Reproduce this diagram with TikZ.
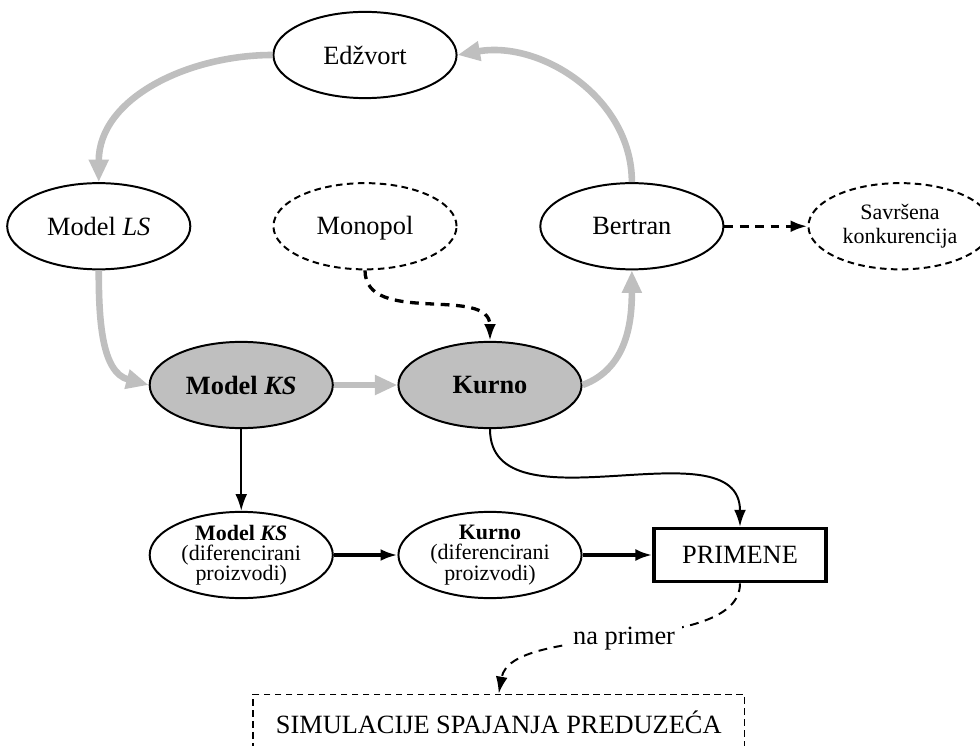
\documentclass[tikz,border=0pt]{standalone}
\usepackage{fontspec}
\setmainfont{Liberation Serif}
\usetikzlibrary{shapes,arrows.meta}

\begin{document}
\begin{tikzpicture}
    \tikzstyle{gedge} = [line width=3pt,draw=gray!50,-{Triangle[length=0.36cm,width=0.3cm]}]
    \tikzstyle{dedge} = [line width=0.9pt,draw=black,-{Latex[length=0.27cm,width=0.19cm]}]
    \tikzstyle{tedge} = [dedge,line width=1.5pt]
    \tikzstyle{sedge} = [dedge,line width=1.5pt,dash pattern=on 4pt off 3pt]
    \tikzstyle{model}=[
      ellipse,
      draw=black,
      line width=0.9pt,
      minimum width=2.93cm,
      minimum height=1.38cm,
      inner sep=0pt,
      align=center,
      font=\fontsize{12}{14}\selectfont,
    ]
    \tikzstyle{dmodel}=[
      model,
      dash pattern=on 3pt off 2pt,
    ]
    \tikzstyle{core}=[
      model,
      fill=gray!50,
      font=\fontsize{12}{14}\selectfont\bfseries,
    ]
    \tikzstyle{small}=[
      model,
      font=\fontsize{10}{9.2}\selectfont,
    ]

    \useasboundingbox (0,0) rectangle (15.68,-11.936);

    {
      \node[model] (ed) at (5.84,-0.88) {Edžvort};

      \node[model] (ls) at (1.58,-3.62) {Model \textit{LS}};
      \node[dmodel,text height=1.6ex,text depth=0pt] (mono) at (5.84,-3.62) {Monopol};
      \node[model] (be) at (10.11,-3.62) {Bertran};
      \node[dmodel,font=\fontsize{10}{11}\selectfont] (sk) at (14.4,-3.62) {Savršena\\konkurencija};

      \node[core] (ks) at (3.86,-6.16) {Model \textit{KS}};
      \node[core] (ku) at (7.84,-6.16) {Kurno};

      \node[small] (ksd) at (3.86,-8.88) {\textbf{Model \textit{KS}}\\(diferencirani\\proizvodi)};
      \node[small] (kud) at (7.84,-8.88) {\textbf{Kurno}\\(diferencirani\\proizvodi)};
      \node[draw,line width=1.6pt,minimum width=2.75cm,minimum height=0.85cm,
            font=\fontsize{12}{14}\selectfont] (prim) at (11.84,-8.88) {PRIMENE};

      \node[draw,line width=0.8pt,dash pattern=on 3pt off 2pt,minimum width=7.86cm,
            minimum height=0.9cm,font=\fontsize{12}{14}\selectfont] (sim) at (7.98,-11.56) {SIMULACIJE SPAJANJA PREDUZEĆA};
    }

    {
      \draw[gedge] (ed.west) to[out=180,in=90] (ls.north);
      \draw[gedge] (ls.south) to[out=-90,in=165] (ks.west);
      \draw[gedge] (ks.east) -- (ku.west);
      \draw[gedge] (ku.east) to[out=20,in=-90] (be.south);
      \draw[gedge] (be.north) to[out=90,in=10] (ed.east);

      \draw[sedge] (mono.south) to[out=-90,in=90] (ku.north);
      \draw[sedge] (be.east) -- (sk.west);

      \draw[dedge] (ks.south) -- (ksd.north);
      \draw[dedge] (ku.south) to[out=-90,in=90] (prim.north);
      \draw[tedge] (ksd.east) -- (kud.west);
      \draw[tedge] (kud.east) -- (prim.west);

      \draw[dedge,dash pattern=on 4pt off 3pt] (prim.south) to[out=-90,in=80,looseness=0.7]
        node[midway,fill=white,inner sep=3pt,font=\fontsize{12}{14}\selectfont] {na primer} (sim.north);
    }
  \end{tikzpicture}
\end{document}
